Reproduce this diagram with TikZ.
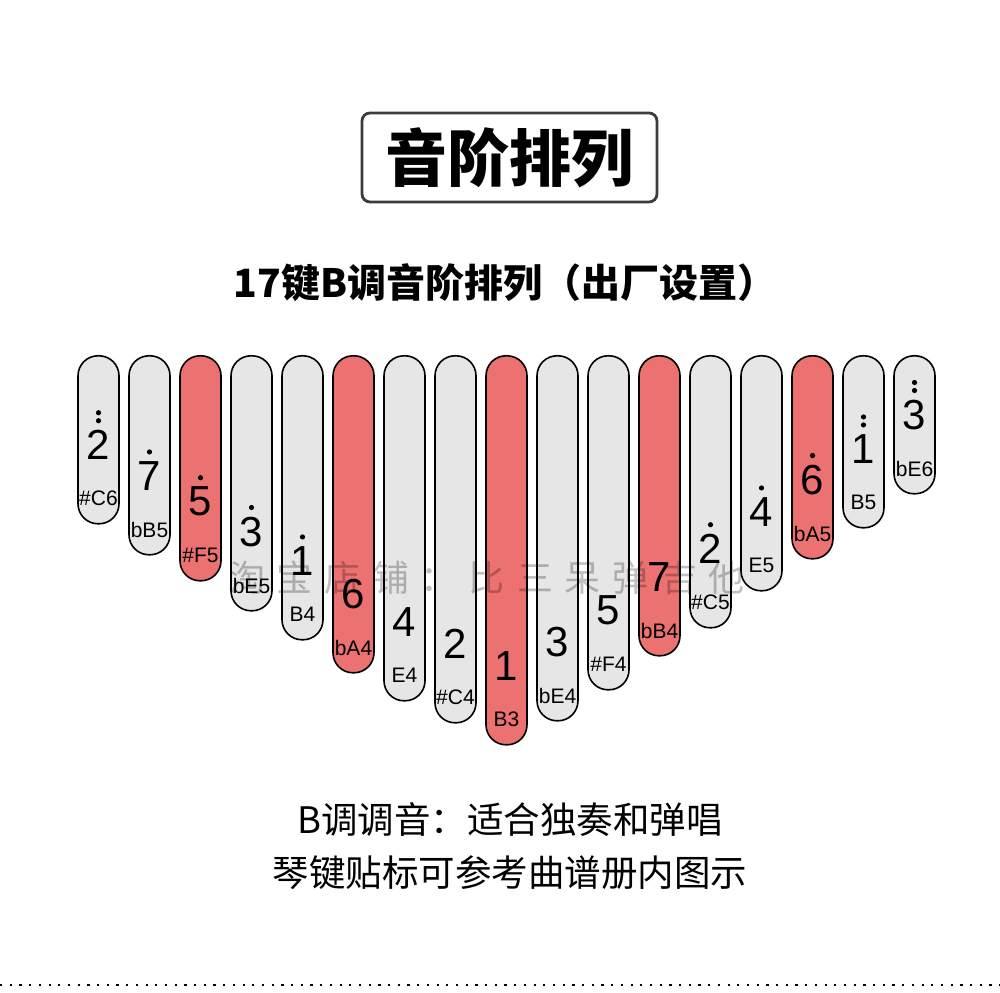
\documentclass[tikz,border=0pt]{standalone}
\usepackage{fontspec}
\setmainfont{Liberation Sans}
\newfontfamily\cjk{Noto Sans CJK SC}
\usepackage{xcolor}
\definecolor{keygray}{RGB}{230,230,230}
\definecolor{keyred}{RGB}{236,113,113}
\definecolor{boxgray}{RGB}{60,60,60}

\begin{document}
\begin{tikzpicture}[x=1pt, y=1pt]
\tikzstyle{wkey}=[rectangle, draw, line width=1.6pt, fill=keygray, rounded corners=20pt, minimum width=41pt, anchor=north]
\tikzstyle{rkey}=[wkey, fill=keyred]
\tikzstyle{num}=[inner sep=0pt, font=\fontsize{42}{42}\selectfont]
\tikzstyle{lbl}=[inner sep=0pt, font=\fontsize{21}{21}\selectfont]
\tikzstyle{titlebox}=[draw=boxgray, line width=2.8pt, rounded corners=8pt, minimum width=295pt, minimum height=89pt, inner sep=0pt, font={\cjk\bfseries\fontsize{62}{62}\selectfont}]
\tikzstyle{subtitle}=[inner sep=0pt, font={\cjk\bfseries\fontsize{39}{39}\selectfont}]
\tikzstyle{note}=[inner sep=0pt, font={\cjk\fontsize{36.5}{36.5}\selectfont}]
\tikzstyle{wmark}=[inner sep=0pt, text=black, text opacity=0.25, font={\cjk\fontsize{36}{36}\selectfont\spaceskip=12pt}]
\tikzstyle{dotline}=[line width=2.2pt, dash pattern=on 2.2pt off 7.5pt]

\useasboundingbox (0,0) rectangle (1000,992);

\node[titlebox] (title) at (509.5,834.5) {音阶排列};
\node[subtitle] (sub) at (505,709) {17键B调音阶排列（出厂设置）};

% keys, low notes in the middle
\node[wkey, minimum height=168pt] (k1) at (98.5,637) {};
\node[wkey, minimum height=199pt] (k2) at (149.5,637) {};
\node[rkey, minimum height=225pt] (k3) at (200.5,637) {};
\node[wkey, minimum height=255pt] (k4) at (251.5,637) {};
\node[wkey, minimum height=284pt] (k5) at (302.5,637) {};
\node[rkey, minimum height=317pt] (k6) at (353.5,637) {};
\node[wkey, minimum height=345pt] (k7) at (404.5,637) {};
\node[wkey, minimum height=367pt] (k8) at (455.5,637) {};
\node[rkey, minimum height=389pt] (k9) at (506.5,637) {};
\node[wkey, minimum height=365pt] (k10) at (557.5,637) {};
\node[wkey, minimum height=334pt] (k11) at (608.5,637) {};
\node[rkey, minimum height=300pt] (k12) at (659.5,637) {};
\node[wkey, minimum height=272pt] (k13) at (710.5,637) {};
\node[wkey, minimum height=235pt] (k14) at (761.5,637) {};
\node[rkey, minimum height=203pt] (k15) at (812.5,637) {};
\node[wkey, minimum height=172pt] (k16) at (863.5,637) {};
\node[wkey, minimum height=138pt] (k17) at (914.5,637) {};

\node[num] (n1) at ([yshift=80pt]k1.south) {2};
\node[num] (n2) at ([yshift=80pt]k2.south) {7};
\node[num] (n3) at ([yshift=80pt]k3.south) {5};
\node[num] (n4) at ([yshift=80pt]k4.south) {3};
\node[num] (n5) at ([yshift=80pt]k5.south) {1};
\node[num] (n6) at ([yshift=80pt]k6.south) {6};
\node[num] (n7) at ([yshift=80pt]k7.south) {4};
\node[num] (n8) at ([yshift=80pt]k8.south) {2};
\node[num] (n9) at ([yshift=80pt]k9.south) {1};
\node[num] (n10) at ([yshift=80pt]k10.south) {3};
\node[num] (n11) at ([yshift=80pt]k11.south) {5};
\node[num] (n12) at ([yshift=80pt]k12.south) {7};
\node[num] (n13) at ([yshift=80pt]k13.south) {2};
\node[num] (n14) at ([yshift=80pt]k14.south) {4};
\node[num] (n15) at ([yshift=80pt]k15.south) {6};
\node[num] (n16) at ([yshift=80pt]k16.south) {1};
\node[num] (n17) at ([yshift=80pt]k17.south) {3};

\node[lbl] (l1) at ([yshift=26pt]k1.south) {\#C6};
\node[lbl] (l2) at ([yshift=26pt]k2.south) {bB5};
\node[lbl] (l3) at ([yshift=26pt]k3.south) {\#F5};
\node[lbl] (l4) at ([yshift=26pt]k4.south) {bE5};
\node[lbl] (l5) at ([yshift=26pt]k5.south) {B4};
\node[lbl] (l6) at ([yshift=26pt]k6.south) {bA4};
\node[lbl] (l7) at ([yshift=26pt]k7.south) {E4};
\node[lbl] (l8) at ([yshift=26pt]k8.south) {\#C4};
\node[lbl] (l9) at ([yshift=26pt]k9.south) {B3};
\node[lbl] (l10) at ([yshift=26pt]k10.south) {bE4};
\node[lbl] (l11) at ([yshift=26pt]k11.south) {\#F4};
\node[lbl] (l12) at ([yshift=26pt]k12.south) {bB4};
\node[lbl] (l13) at ([yshift=26pt]k13.south) {\#C5};
\node[lbl] (l14) at ([yshift=26pt]k14.south) {E5};
\node[lbl] (l15) at ([yshift=26pt]k15.south) {bA5};
\node[lbl] (l16) at ([yshift=26pt]k16.south) {B5};
\node[lbl] (l17) at ([yshift=26pt]k17.south) {bE6};

% octave dots
\fill ([yshift=9pt]n1.north) circle (2.6pt) ([yshift=17pt]n1.north) circle (2.6pt);
\fill ([yshift=9pt]n2.north) circle (2.6pt);
\fill ([yshift=9pt]n3.north) circle (2.6pt);
\fill ([yshift=9pt]n4.north) circle (2.6pt);
\fill ([yshift=9pt]n5.north) circle (2.6pt);
\fill ([yshift=9pt]n13.north) circle (2.6pt);
\fill ([yshift=9pt]n14.north) circle (2.6pt);
\fill ([yshift=9pt]n15.north) circle (2.6pt);
\fill ([yshift=9pt]n16.north) circle (2.6pt) ([yshift=17pt]n16.north) circle (2.6pt);
\fill ([yshift=9pt]n17.north) circle (2.6pt) ([yshift=17pt]n17.north) circle (2.6pt);

\node[wmark] (wm) at (487,414) {淘 宝 店 铺 ： 比 三 呆 弹 吉 他};

\node[note] (tip1) at (510,172) {B调调音：适合独奏和弹唱};
\node[note] (tip2) at (510,119) {琴键贴标可参考曲谱册内图示};

\coordinate (dl) at (0,7);
\coordinate (dr) at (1000,7);
\draw[dotline] (dl) -- (dr);

\end{tikzpicture}
\end{document}
